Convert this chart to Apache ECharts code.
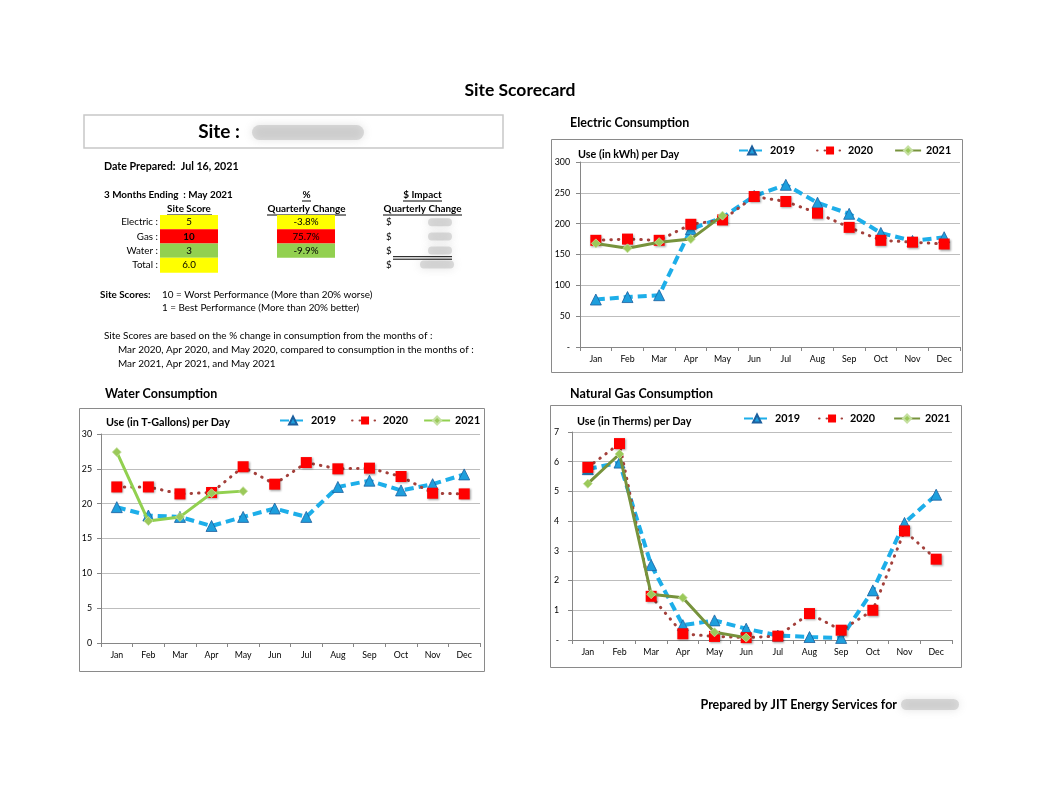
<!DOCTYPE html>
<html><head><meta charset="utf-8">
<script src="https://cdn.jsdelivr.net/npm/echarts@6/dist/echarts.min.js"></script>
<style>html,body{margin:0;padding:0;background:#fff}#main{width:1051px;height:810px}</style>
</head><body><div id="main"></div>
<script>
// ---------- data ----------
const months = ['Jan','Feb','Mar','Apr','May','Jun','Jul','Aug','Sep','Oct','Nov','Dec'];
const yearNames = ['2019','2020','2021'];

const elec2019 = [77,81,84,191,210,245,263,234,216,185,172,178];
const elec2020 = [173,175,173,199,206,244,236,217,194,173,170,167];
const elec2021 = [168,160,170,175,213];

const water2019 = [19.5,18.3,18.1,16.8,18.1,19.3,18.1,22.4,23.3,21.9,22.8,24.2];
const water2020 = [22.4,22.4,21.4,21.6,25.3,22.8,25.9,25.0,25.1,23.9,21.5,21.4];
const water2021 = [27.4,17.5,18.1,21.5,21.8];

const gas2019 = [5.75,5.97,2.52,0.5,0.66,0.38,0.15,0.1,0.07,1.67,3.94,4.89];
const gas2020 = [5.81,6.61,1.47,0.21,0.12,0.08,0.13,0.89,0.33,1.0,3.67,2.72];
const gas2021 = [5.26,6.26,1.54,1.42,0.26,0.08];

const scoreLabels = ['Electric :','Gas :','Water :','Total :'];
const siteScores = ['5','10','3','6.0'];
const pctChange = ['-3.8%','75.7%','-9.9%'];

// ---------- styles ----------
const FONT = 'Lato, "Noto Sans", sans-serif';
const YELLOW = '#FFFF00', RED = '#FF0000', GREEN = '#92D050';
const scoreColors = [YELLOW, RED, GREEN, YELLOW];
const axisGray = '#868686';

function txt(x, y, text, size, bold, align, extra) {
  return Object.assign({
    type: 'text', x: x, y: y, silent: true,
    style: { text: text, font: (bold ? 'bold ' : '') + size + 'px ' + FONT, fill: '#000',
      align: align || 'left', verticalAlign: 'middle' }
  }, extra || {});
}
function rect(x, y, w, h, style) {
  return { type: 'rect', shape: { x: x, y: y, width: w, height: h }, style: style, silent: true };
}
function line(x1, y1, x2, y2, color, w) {
  return { type: 'line', shape: { x1: x1, y1: y1, x2: x2, y2: y2 }, style: { stroke: color || '#000', lineWidth: w || 1 }, silent: true };
}
function blob(x, y, w, h) {
  return { type: 'rect', shape: { x: x, y: y, width: w, height: h, r: h / 2 }, silent: true,
    style: { fill: 'rgba(160,160,160,0.35)', shadowBlur: 8, shadowColor: 'rgba(140,140,140,0.7)' } };
}

const graphics = [];
// page title
graphics.push(txt(520, 90, 'Site Scorecard', 17.5, true, 'center'));
// site box
graphics.push(rect(84, 115, 419, 33, { fill: 'none', stroke: '#c8c8c8', lineWidth: 1.5 }));
graphics.push(txt(240, 132, 'Site :', 19, true, 'right'));
graphics.push(blob(252, 125, 112, 15));
// date / headers
graphics.push(txt(104, 167, 'Date Prepared:  Jul 16, 2021', 10.7, true));
graphics.push(txt(104, 195, '3 Months Ending  : May 2021', 9.9, true));
graphics.push(txt(189, 209, 'Site Score', 9.9, true, 'center'));
graphics.push(line(167, 215, 212, 215));
graphics.push(txt(306.5, 195, '%', 9.9, true, 'center'));
graphics.push(line(302, 201, 311, 201));
graphics.push(txt(306.5, 209, 'Quarterly Change', 9.9, true, 'center'));
graphics.push(line(267, 215, 346, 215));
graphics.push(txt(422.5, 195, '$ Impact', 9.9, true, 'center'));
graphics.push(line(403, 201, 442, 201));
graphics.push(txt(422.5, 209, 'Quarterly Change', 9.9, true, 'center'));
graphics.push(line(383, 215, 462, 215));
// table rows
const rowTop = [215, 229.3, 243.5, 257.7];
const rowH = [14.3, 14.2, 14.2, 15];
scoreLabels.forEach(function (lab, i) {
  const cy = rowTop[i] + rowH[i] / 2;
  graphics.push(txt(158, cy, lab, 9.8, false, 'right'));
  graphics.push(rect(160, rowTop[i], 58, rowH[i], { fill: scoreColors[i] }));
  graphics.push(txt(189, cy, siteScores[i], 9.8, i === 1, 'center'));
  if (i < 3) {
    graphics.push(rect(277, rowTop[i], 58, rowH[i], { fill: scoreColors[i] }));
    graphics.push(txt(306, cy, pctChange[i], 9.8, false, 'center'));
  }
  graphics.push(txt(386, i === 3 ? 264.5 : cy, '$', 9.8, false, 'left'));
  graphics.push(blob(i === 3 ? 420 : 428, (i === 3 ? 264.5 : cy) - 4, i === 3 ? 34 : 24, 8));
});
graphics.push(line(393, 256.7, 452, 256.7, '#000', 1));
graphics.push(line(393, 259.2, 452, 259.2, '#000', 1));
// notes
graphics.push(txt(100, 295, 'Site Scores:', 9.9, true));
graphics.push(txt(162, 295, '10 = Worst Performance (More than 20% worse)', 9.9, false));
graphics.push(txt(162, 308, '1 = Best Performance (More than 20% better)', 9.9, false));
graphics.push(txt(104, 336, 'Site Scores are based on the % change in consumption from the months of :', 9.95, false));
graphics.push(txt(118, 350, 'Mar 2020, Apr 2020, and May 2020, compared to consumption in the months of :', 9.95, false));
graphics.push(txt(118, 364, 'Mar 2021, Apr 2021, and May 2021', 9.95, false));
// footer
graphics.push(txt(897, 705, 'Prepared by JIT Energy Services for', 12.5, true, 'right'));
graphics.push(blob(901, 699, 58, 11));

// chart boxes + titles + y names
const boxes = [
  { x: 551, y: 139, w: 411, h: 233, title: 'Electric Consumption', tx: 570, ty: 123, yname: 'Use (in kWh) per Day', nx: 578, ny: 155 },
  { x: 79, y: 408, w: 405, h: 263, title: 'Water Consumption', tx: 105, ty: 394, yname: 'Use (in T-Gallons) per Day', nx: 106, ny: 423 },
  { x: 550, y: 405, w: 411, h: 262, title: 'Natural Gas Consumption', tx: 570, ty: 394, yname: 'Use (in Therms) per Day', nx: 577, ny: 422 }
];
boxes.forEach(function (b) {
  graphics.push(rect(b.x + 0.5, b.y + 0.5, b.w, b.h, { fill: 'none', stroke: '#8a8a8a', lineWidth: 1 }));
  graphics.push(txt(b.tx, b.ty, b.title, 12.5, true));
  graphics.push(txt(b.nx, b.ny, b.yname, 10.8, true));
});

// ---------- charts ----------
const grids = [
  { left: 580, top: 162, width: 380, height: 185 },   // electric
  { left: 101, top: 434, width: 379, height: 209 },   // water
  { left: 572, top: 432, width: 380, height: 208 }    // gas
];
const yDefs = [
  { min: 0, max: 300, interval: 50, fmt: function (v) { return v === 0 ? '-' : String(v); }, margin: 10 },
  { min: 0, max: 30, interval: 5, fmt: function (v) { return String(v); }, margin: 9 },
  { min: 0, max: 7, interval: 1, fmt: function (v) { return v === 0 ? '-' : String(v); }, margin: 13 }
];
const xAxes = grids.map(function (g, i) {
  return {
    type: 'category', gridIndex: i, data: months, boundaryGap: true,
    axisLine: { lineStyle: { color: axisGray, width: 1 } },
    axisTick: { show: true, length: 4, lineStyle: { color: axisGray } },
    axisLabel: { fontSize: 8.8, color: '#000', margin: 8, fontFamily: FONT, interval: 0 },
    splitLine: { show: false }
  };
});
const yAxes = yDefs.map(function (d, i) {
  return {
    type: 'value', gridIndex: i, min: d.min, max: d.max, interval: d.interval,
    axisLine: { show: true, lineStyle: { color: axisGray, width: 1 } },
    axisTick: { show: true, length: 4, lineStyle: { color: axisGray } },
    axisLabel: { fontSize: 8.8, color: '#000', margin: d.margin, fontFamily: FONT, formatter: d.fmt },
    splitLine: { show: true, lineStyle: { color: '#BDBDBD', width: 1 } }
  };
});

function s2019(prefix, idx, data) {
  return {
    name: prefix + ' 2019', type: 'line', xAxisIndex: idx, yAxisIndex: idx, data: data,
    symbol: 'triangle', symbolSize: 11, showAllSymbol: true,
    lineStyle: { color: '#1DAEE9', width: 4, type: [9, 5] },
    itemStyle: { color: '#1E9FDD', borderColor: '#1C5F9E', borderWidth: 0.8 },
    z: 2
  };
}
function s2020(prefix, idx, data) {
  return {
    name: prefix + ' 2020', type: 'line', xAxisIndex: idx, yAxisIndex: idx, data: data,
    symbol: 'rect', symbolSize: 11, showAllSymbol: true,
    lineStyle: { color: '#A3403B', width: 3, type: [0.5, 7], cap: 'round' },
    itemStyle: { color: '#FF0000', shadowBlur: 2, shadowColor: 'rgba(0,0,0,0.35)', shadowOffsetX: 1, shadowOffsetY: 1 },
    z: 3
  };
}
function s2021(prefix, idx, data, color) {
  return {
    name: prefix + ' 2021', type: 'line', xAxisIndex: idx, yAxisIndex: idx, data: data,
    symbol: 'diamond', symbolSize: 9, showAllSymbol: true,
    lineStyle: { color: color, width: 3 },
    itemStyle: { color: '#9BC95A', borderColor: '#C5E0A0', borderWidth: 0.8 },
    z: 4
  };
}
const series = [
  s2019('Electric', 0, elec2019), s2020('Electric', 0, elec2020), s2021('Electric', 0, elec2021, '#77933C'),
  s2019('Water', 1, water2019), s2020('Water', 1, water2020), s2021('Water', 1, water2021, '#92D050'),
  s2019('Gas', 2, gas2019), s2020('Gas', 2, gas2020), s2021('Gas', 2, gas2021, '#77933C')
];
function legendFor(prefix, left, top, gap) {
  return {
    data: yearNames.map(function (y) { return prefix + ' ' + y; }),
    left: left, top: top, itemGap: gap, itemWidth: 26, itemHeight: 10, padding: 0,
    selectedMode: false,
    formatter: function (n) { return n.slice(-4); },
    textStyle: { fontSize: 10.8, fontWeight: 'bold', color: '#000', fontFamily: FONT }
  };
}

const chart = echarts.init(document.getElementById('main'), null, { renderer: 'canvas' });
chart.setOption({
  animation: false,
  backgroundColor: '#fff',
  textStyle: { fontFamily: FONT },
  grid: grids,
  xAxis: xAxes,
  yAxis: yAxes,
  legend: [
    legendFor('Electric', 738, 145, 21),
    legendFor('Water', 279, 415, 15),
    legendFor('Gas', 743, 413, 18)
  ],
  series: series,
  graphic: { elements: graphics }
});
</script></body></html>
